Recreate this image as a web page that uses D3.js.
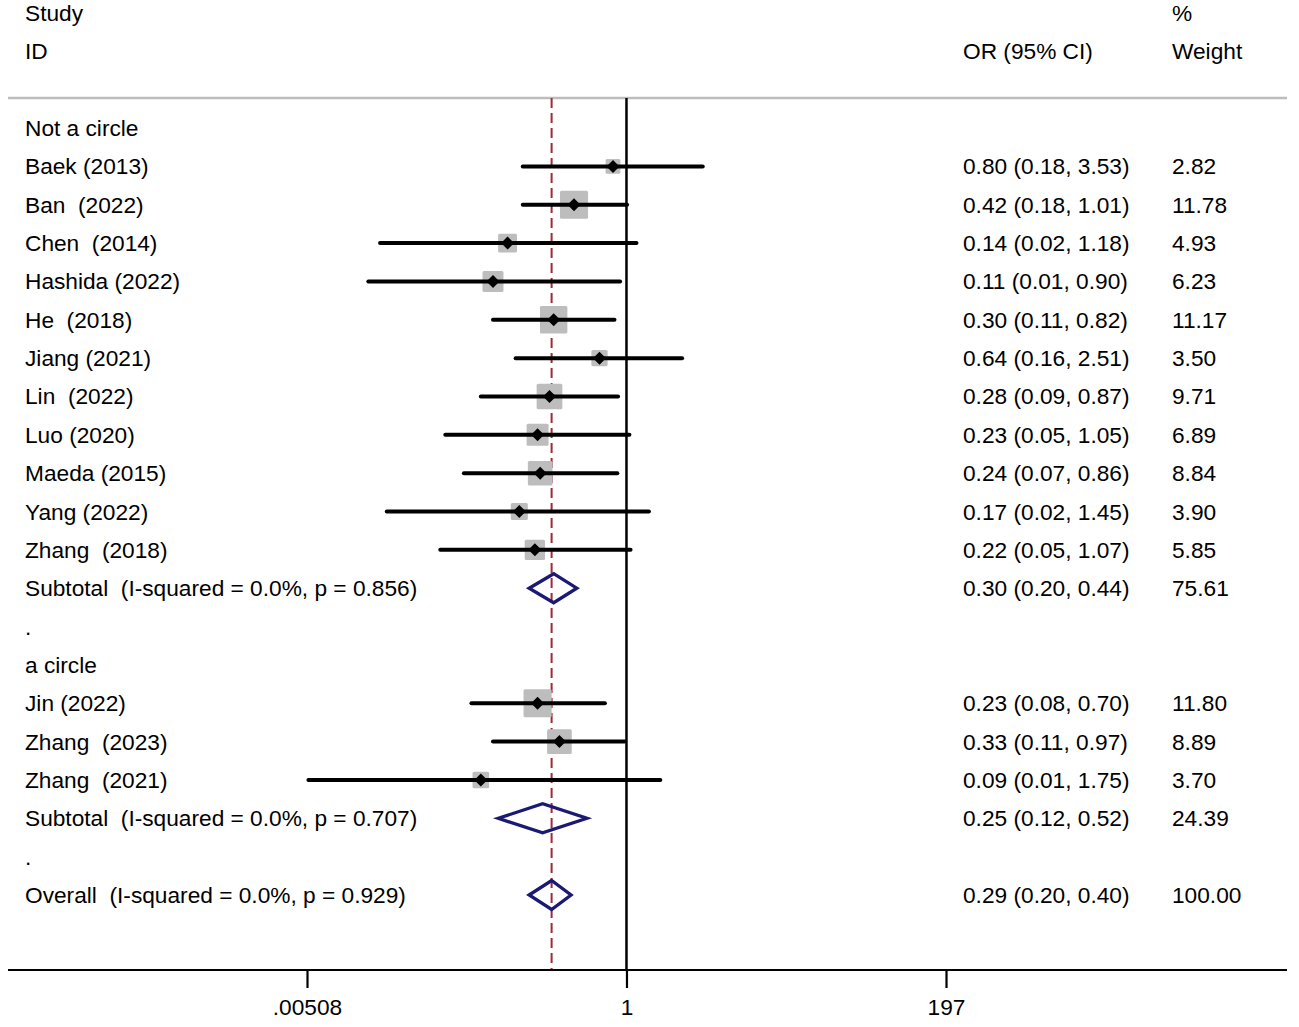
<!DOCTYPE html>
<html>
<head>
<meta charset="utf-8">
<script src="https://cdn.jsdelivr.net/npm/d3@7"></script>
<style>
  body { margin: 0; background: #fff; }
  svg text { font-family: "Liberation Sans", Arial, sans-serif; font-size: 22.7px; fill: #000; white-space: pre; }
</style>
</head>
<body>
<div id="graphic"></div>
<script>
// rows of the plot, top to bottom (row index 0 = first line under the header rule)
var studies  = ["Baek (2013)", "Ban  (2022)", "Chen  (2014)", "Hashida (2022)", "He  (2018)",
                "Jiang (2021)", "Lin  (2022)", "Luo (2020)", "Maeda (2015)", "Yang (2022)",
                "Zhang  (2018)", "Jin (2022)", "Zhang  (2023)", "Zhang  (2021)"];
var studyRow = [1, 2, 3, 4, 5, 6, 7, 8, 9, 10, 11, 15, 16, 17];
var or       = [0.80, 0.42, 0.14, 0.11, 0.30, 0.64, 0.28, 0.23, 0.24, 0.17, 0.22, 0.23, 0.33, 0.09];
var lo       = [0.18, 0.18, 0.017, 0.014, 0.11, 0.16, 0.09, 0.05, 0.068, 0.019, 0.046, 0.077, 0.11, 0.0052];
var hi       = [3.53, 1.01, 1.18, 0.90, 0.82, 2.51, 0.87, 1.05, 0.86, 1.45, 1.07, 0.70, 0.97, 1.75];
var weight   = ["2.82", "11.78", "4.93", "6.23", "11.17", "3.50", "9.71", "6.89", "8.84", "3.90",
                "5.85", "11.80", "8.89", "3.70"];

var pooledLabel = ["Subtotal  (I-squared = 0.0%, p = 0.856)",
                   "Subtotal  (I-squared = 0.0%, p = 0.707)",
                   "Overall  (I-squared = 0.0%, p = 0.929)"];
var pooledRow   = [12, 18, 20];
var pooledOr    = [0.30, 0.25, 0.29];
var pooledLo    = [0.20, 0.12, 0.20];
var pooledHi    = [0.44, 0.52, 0.40];
var pooledW     = ["75.61", "24.39", "100.00"];

var groupLabel = ["Not a circle", ".", "a circle", "."];
var groupRow   = [0, 13, 14, 19];

var tickValues = [0.00508, 1, 197];
var tickLabels = [".00508", "1", "197"];
var overallOr  = 0.29;

var W = 1299, H = 1027;
var svg = d3.select("#graphic").append("svg")
        .attr("width", W)
        .attr("height", H);

var x = d3.scaleLog().domain([0.00508, 197]).range([307, 946]);
var y = d3.scaleLinear().domain([-3, 20]).range([13, 895]);
var box = d3.scaleSqrt().domain([0, 1]).range([0, 7.6]);

var ruleY = 98, axisY = 970;
var colLeft = 25, colOr = 963, colW = 1172;
var base = 8; // text baseline offset from row centre

// header
svg.append("text").attr("x", colLeft).attr("y", y(-3) + base).text("Study");
svg.append("text").attr("x", colLeft).attr("y", y(-2) + base).text("ID");
svg.append("text").attr("x", colOr).attr("y", y(-2) + base).text("OR (95% CI)");
svg.append("text").attr("x", colW).attr("y", y(-3) + base).text("%");
svg.append("text").attr("x", colW).attr("y", y(-2) + base).text("Weight");

svg.append("line")
        .attr("x1", 8).attr("x2", 1287)
        .attr("y1", ruleY).attr("y2", ruleY)
        .style("stroke", "#bdbdbd")
        .style("stroke-width", 2.5);

// reference lines
svg.append("line")
        .attr("x1", x(1)).attr("x2", x(1))
        .attr("y1", ruleY).attr("y2", axisY)
        .style("stroke", "#000")
        .style("stroke-width", 2.5);

svg.append("line")
        .attr("x1", x(overallOr)).attr("x2", x(overallOr))
        .attr("y1", ruleY).attr("y2", axisY)
        .style("stroke", "#9e2a3a")
        .style("stroke-width", 2)
        .style("stroke-dasharray", "10,5");

// group labels
svg.selectAll(".grp").data(groupLabel).enter().append("text")
        .attr("x", colLeft)
        .attr("y", function(d, i) { return y(groupRow[i]) + base; })
        .text(function(d) { return d; });

// study rows
var rows = svg.selectAll(".study").data(studies).enter().append("g");

rows.append("rect")
        .attr("x", function(d, i) { return x(or[i]) - (2 + box(+weight[i])) / 2; })
        .attr("y", function(d, i) { return y(studyRow[i]) - (2 + box(+weight[i])) / 2; })
        .attr("width", function(d, i) { return 2 + box(+weight[i]); })
        .attr("height", function(d, i) { return 2 + box(+weight[i]); })
        .attr("rx", 1.5)
        .style("fill", "#bdbdbd");

rows.append("line")
        .attr("x1", function(d, i) { return x(lo[i]); })
        .attr("x2", function(d, i) { return x(hi[i]); })
        .attr("y1", function(d, i) { return y(studyRow[i]); })
        .attr("y2", function(d, i) { return y(studyRow[i]); })
        .style("stroke", "#000")
        .style("stroke-width", 4)
        .style("stroke-linecap", "round");

rows.append("path")
        .attr("d", function(d, i) {
            var cx = x(or[i]), cy = y(studyRow[i]), r = 6.5;
            return "M" + (cx - r) + "," + cy + "L" + cx + "," + (cy - r) +
                   "L" + (cx + r) + "," + cy + "L" + cx + "," + (cy + r) + "Z";
        })
        .style("fill", "#000");

rows.append("text")
        .attr("x", colLeft)
        .attr("y", function(d, i) { return y(studyRow[i]) + base; })
        .text(function(d) { return d; });

rows.append("text")
        .attr("x", colOr)
        .attr("y", function(d, i) { return y(studyRow[i]) + base; })
        .text(function(d, i) {
            return or[i].toFixed(2) + " (" + lo[i].toFixed(2) + ", " + hi[i].toFixed(2) + ")";
        });

rows.append("text")
        .attr("x", colW)
        .attr("y", function(d, i) { return y(studyRow[i]) + base; })
        .text(function(d, i) { return weight[i]; });

// pooled diamonds
var pooled = svg.selectAll(".pooled").data(pooledLabel).enter().append("g");

pooled.append("path")
        .attr("d", function(d, i) {
            var cy = y(pooledRow[i]), h = 14.5;
            return "M" + x(pooledLo[i]) + "," + cy + "L" + x(pooledOr[i]) + "," + (cy - h) +
                   "L" + x(pooledHi[i]) + "," + cy + "L" + x(pooledOr[i]) + "," + (cy + h) + "Z";
        })
        .style("fill", "none")
        .style("stroke", "#1a1a75")
        .style("stroke-width", 3.3);

pooled.append("text")
        .attr("x", colLeft)
        .attr("y", function(d, i) { return y(pooledRow[i]) + base; })
        .text(function(d) { return d; });

pooled.append("text")
        .attr("x", colOr)
        .attr("y", function(d, i) { return y(pooledRow[i]) + base; })
        .text(function(d, i) {
            return pooledOr[i].toFixed(2) + " (" + pooledLo[i].toFixed(2) + ", " + pooledHi[i].toFixed(2) + ")";
        });

pooled.append("text")
        .attr("x", colW)
        .attr("y", function(d, i) { return y(pooledRow[i]) + base; })
        .text(function(d, i) { return pooledW[i]; });

// x axis
svg.append("line")
        .attr("x1", 8).attr("x2", 1287)
        .attr("y1", axisY).attr("y2", axisY)
        .style("stroke", "#000")
        .style("stroke-width", 2.2);

var axis = svg.append("g")
        .attr("transform", "translate(0," + axisY + ")")
        .call(d3.axisBottom(x)
            .tickValues(tickValues)
            .tickSize(18)
            .tickPadding(11)
            .tickFormat(function(d, i) { return tickLabels[i]; }));

axis.select(".domain").remove();
axis.selectAll(".tick line").style("stroke", "#000").style("stroke-width", 2.2);
axis.selectAll(".tick text")
        .style("font-family", "\"Liberation Sans\", Arial, sans-serif")
        .style("font-size", "22.7px")
        .style("fill", "#000");
</script>
</body>
</html>
